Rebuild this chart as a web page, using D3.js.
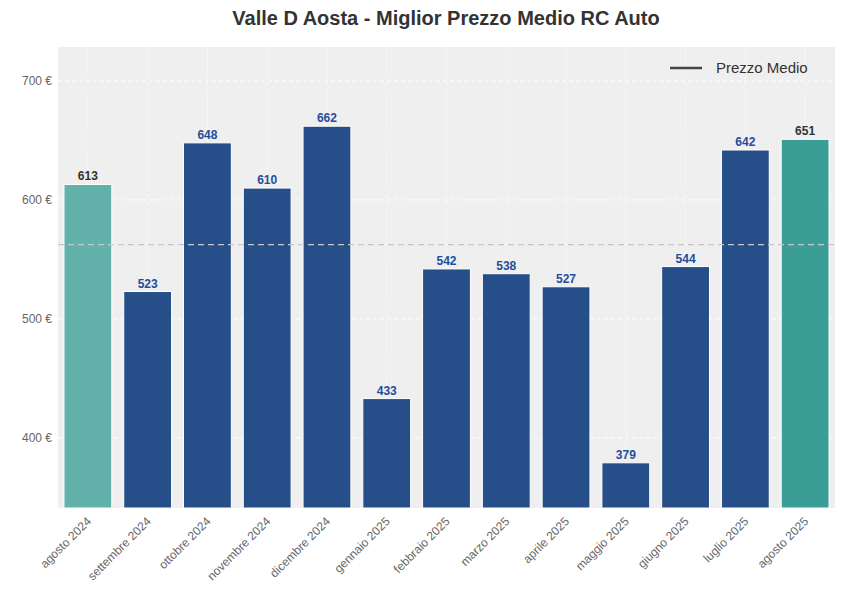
<!DOCTYPE html>
<html><head><meta charset="utf-8">
<script src="https://cdn.jsdelivr.net/npm/d3@7"></script>
<style>body{margin:0;background:#fff;font-family:Arial,"Liberation Sans",sans-serif}</style>
</head><body><div id="chart"></div>
<script>
const months = ['agosto 2024','settembre 2024','ottobre 2024','novembre 2024','dicembre 2024','gennaio 2025','febbraio 2025','marzo 2025','aprile 2025','maggio 2025','giugno 2025','luglio 2025','agosto 2025']
const prices = [613, 523, 648, 610, 662, 433, 542, 538, 527, 379, 544, 642, 651]
const yTicks = [400, 500, 600, 700]

const width = 845, height = 610
const margin = { top: 47, right: 10, bottom: 102, left: 58 }
const iw = width - margin.left - margin.right
const ih = height - margin.top - margin.bottom

const svg = d3.select('#chart').append('svg').attr('width', width).attr('height', height)
svg.append('text').attr('x', 446).attr('y', 25).attr('text-anchor', 'middle')
  .attr('font-size', 20).attr('font-weight', 'bold').attr('fill', '#333')
  .text('Valle D Aosta - Miglior Prezzo Medio RC Auto')

const g = svg.append('g').attr('transform', `translate(${margin.left},${margin.top})`)
g.append('rect').attr('width', iw).attr('height', ih).attr('fill', '#efefef')

const x = d3.scaleBand().domain(months).range([0, iw]).paddingInner(0.2).paddingOuter(0.1)
const y = d3.scaleLinear().domain([341, 728.6]).range([ih, 0])

g.selectAll('.grid').data(yTicks).enter().append('line')
  .attr('x1', 0).attr('x2', iw).attr('y1', d => y(d)).attr('y2', d => y(d))
  .attr('stroke', '#fff').attr('stroke-dasharray', '4,3')
g.selectAll('.vgrid').data(months).enter().append('line')
  .attr('x1', d => x(d) + x.bandwidth() / 2).attr('x2', d => x(d) + x.bandwidth() / 2)
  .attr('y1', 0).attr('y2', ih).attr('stroke', '#fff').attr('stroke-dasharray', '4,3').attr('opacity', 0.6)

const color = (d, i) => i === 0 ? '#62b2ab' : i === months.length - 1 ? '#3a9e96' : '#264f8a'
g.selectAll('.bar').data(prices).enter().append('rect')
  .attr('x', (d, i) => x(months[i])).attr('width', x.bandwidth())
  .attr('y', d => y(d)).attr('height', d => ih - y(d))
  .attr('fill', color).attr('stroke', '#fff').attr('stroke-width', 1)

g.selectAll('.lbl').data(prices).enter().append('text')
  .attr('x', (d, i) => x(months[i]) + x.bandwidth() / 2).attr('y', d => y(d) - 4)
  .attr('text-anchor', 'middle').attr('font-size', 12).attr('font-weight', 'bold')
  .attr('fill', (d, i) => (i === 0 || i === months.length - 1) ? '#333' : '#1f4e9a')
  .text(d => d)

const mean = d3.mean(prices)
g.append('line').attr('x1', 0).attr('x2', iw).attr('y1', y(mean)).attr('y2', y(mean))
  .attr('stroke', '#c8c8c8').attr('stroke-dasharray', '6,4').attr('stroke-width', 1.2)

g.selectAll('.yt').data(yTicks).enter().append('text')
  .attr('x', -6).attr('y', d => y(d)).attr('dy', '0.35em').attr('text-anchor', 'end')
  .attr('font-size', 12).attr('fill', '#666').text(d => d + ' €')

g.selectAll('.xt').data(months).enter().append('text')
  .attr('transform', d => `translate(${x(d) + x.bandwidth() / 2 + 4},${ih + 14}) rotate(-45)`)
  .attr('text-anchor', 'end').attr('font-size', 12).attr('fill', '#666').text(d => d)

const lg = g.append('g').attr('transform', `translate(${iw - 165},21)`)
lg.append('line').attr('x1', 0).attr('x2', 32).attr('stroke', '#444').attr('stroke-width', 2.5)
lg.append('text').attr('x', 46).attr('dy', '0.35em').attr('font-size', 15).attr('fill', '#333').text('Prezzo Medio')
</script></body></html>
